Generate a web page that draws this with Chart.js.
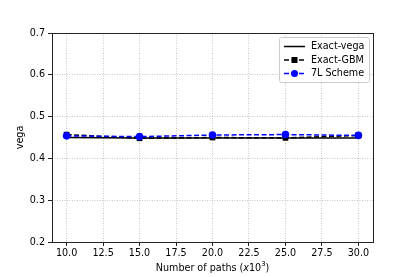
<!DOCTYPE html>
<html>
<head>
<meta charset="utf-8">
<script src="https://cdn.jsdelivr.net/npm/chart.js@4"></script>
<style>
  html, body { margin: 0; padding: 0; background: #fff; }
  #wrap { width: 415px; height: 277px; }
</style>
</head>
<body>
<div id="wrap"><canvas id="vegachart" width="415" height="277"></canvas></div>
<script>
var paths = [10, 15, 20, 25, 30]
var exactVega = [0.450, 0.449, 0.449, 0.449, 0.449]
var exactGBM = [0.457, 0.448, 0.450, 0.449, 0.455]
var scheme7L = [0.454, 0.452, 0.456, 0.457, 0.455]
var xTicks = [10, 12.5, 15, 17.5, 20, 22.5, 25, 27.5, 30]
var yTicks = [0.2, 0.3, 0.4, 0.5, 0.6, 0.7]

var FONT = "'DejaVu Sans', sans-serif"
var FS = 9.6

function toPoints(xs, ys) {
	return xs.map(function (x, i) { return { x: x, y: ys[i] } })
}

// box around the plot, like matplotlib spines
var frameBox = {
	id: 'frameBox',
	afterDatasetsDraw: function (chart) {
		var a = chart.chartArea, ctx = chart.ctx
		ctx.save()
		ctx.strokeStyle = '#222'
		ctx.lineWidth = 1
		ctx.strokeRect(Math.round(a.left) + 0.5, Math.round(a.top) + 0.5,
			Math.round(a.right - a.left), Math.round(a.bottom - a.top))
		ctx.restore()
	}
}

// x axis title with italic x and superscript 3
var xTitle = {
	id: 'xTitle',
	afterDraw: function (chart) {
		var a = chart.chartArea, ctx = chart.ctx
		var parts = [
			{ t: 'Number of paths (', f: FS + 'px ' + FONT, dy: 0 },
			{ t: 'x', f: 'italic ' + FS + 'px ' + FONT, dy: 0 },
			{ t: '10', f: FS + 'px ' + FONT, dy: 0 },
			{ t: '3', f: '6.8px ' + FONT, dy: -4 },
			{ t: ')', f: FS + 'px ' + FONT, dy: 0 }
		]
		ctx.save()
		var total = 0
		parts.forEach(function (p) { ctx.font = p.f; p.w = ctx.measureText(p.t).width; total += p.w })
		var x = (a.left + a.right) / 2 - total / 2
		var y = 268
		ctx.fillStyle = '#000'
		ctx.textBaseline = 'middle'
		ctx.textAlign = 'left'
		parts.forEach(function (p) { ctx.font = p.f; ctx.fillText(p.t, x, y + p.dy); x += p.w })
		ctx.restore()
	}
}

// matplotlib style legend in the upper right corner
var boxLegend = {
	id: 'boxLegend',
	afterDraw: function (chart) {
		var ctx = chart.ctx
		var a = chart.chartArea
		var bx = 279.5, by = 37.5, bw = a.right - 4 - 279, bh = 45
		ctx.save()
		ctx.fillStyle = 'rgba(255,255,255,0.85)'
		ctx.strokeStyle = '#cccccc'
		ctx.lineWidth = 1
		ctx.beginPath()
		ctx.roundRect(bx, by, bw, bh, 2)
		ctx.fill()
		ctx.stroke()
		chart.data.datasets.forEach(function (ds, i) {
			var y = 46.5 + i * 13.5
			var x0 = 284, x1 = 305
			ctx.strokeStyle = ds.borderColor
			ctx.lineWidth = ds.borderWidth
			ctx.setLineDash(ds.borderDash || [])
			ctx.beginPath()
			ctx.moveTo(x0, y)
			ctx.lineTo(x1, y)
			ctx.stroke()
			ctx.setLineDash([])
			if (ds.pointRadius > 0) {
				ctx.fillStyle = ds.pointBackgroundColor
				var cx = (x0 + x1) / 2
				ctx.beginPath()
				if (ds.pointStyle === 'rect') {
					ctx.rect(cx - 3, y - 3, 6, 6)
				} else {
					ctx.arc(cx, y, 3.5, 0, Math.PI * 2)
				}
				ctx.fill()
			}
			ctx.fillStyle = '#000'
			ctx.font = FS + 'px ' + FONT
			ctx.textBaseline = 'middle'
			ctx.fillText(ds.label, 311, y)
		})
		ctx.restore()
	}
}

new Chart("vegachart", {
	type: "line",
	data: {
		datasets: [{
			label: "Exact-vega",
			data: toPoints(paths, exactVega),
			borderColor: '#000',
			backgroundColor: '#000',
			borderWidth: 1.5,
			pointRadius: 0,
			order: 2
		}, {
			label: "Exact-GBM",
			data: toPoints(paths, exactGBM),
			borderColor: '#000',
			backgroundColor: '#000',
			pointBackgroundColor: '#000',
			borderWidth: 1.5,
			borderDash: [5, 2.5],
			pointStyle: 'rect',
			pointRadius: 4,
			pointBorderWidth: 0,
			order: 1
		}, {
			label: "7L Scheme",
			data: toPoints(paths, scheme7L),
			borderColor: '#0000ff',
			backgroundColor: '#0000ff',
			pointBackgroundColor: '#0000ff',
			borderWidth: 1.5,
			borderDash: [5, 2.5],
			pointStyle: 'circle',
			pointRadius: 3.8,
			pointBorderWidth: 0,
			order: 0
		}]
	},
	options: {
		responsive: false,
		animation: false,
		layout: { padding: { left: 12, top: 33, right: 42, bottom: 0 } },
		plugins: {
			legend: { display: false },
			tooltip: { enabled: false }
		},
		scales: {
			x: {
				type: 'linear',
				min: 9,
				max: 31,
				afterBuildTicks: function (scale) {
					scale.ticks = xTicks.map(function (v) { return { value: v } })
				},
				afterFit: function (scale) { scale.height = 35 },
				grid: {
					color: '#b8b8b8',
					lineWidth: 0.8,
					tickColor: '#222',
					tickLength: 4,
					tickWidth: 1
				},
				border: { display: false, dash: [1, 1.5] },
				ticks: {
					color: '#000',
					padding: 2,
					maxRotation: 0,
					font: { family: FONT, size: FS },
					callback: function (v) { return v.toFixed(1) }
				}
			},
			y: {
				min: 0.2,
				max: 0.7,
				afterBuildTicks: function (scale) {
					scale.ticks = yTicks.map(function (v) { return { value: v } })
				},
				afterFit: function (scale) { scale.width = 40 },
				grid: {
					color: '#b8b8b8',
					lineWidth: 0.8,
					tickColor: '#222',
					tickLength: 4,
					tickWidth: 1
				},
				border: { display: false, dash: [1, 1.5] },
				title: {
					display: true,
					text: 'vega',
					color: '#000',
					padding: { top: 3, bottom: 0 },
					font: { family: FONT, size: FS }
				},
				ticks: {
					color: '#000',
					padding: 3,
					font: { family: FONT, size: FS },
					callback: function (v) { return v.toFixed(1) }
				}
			}
		}
	},
	plugins: [frameBox, xTitle, boxLegend]
})
</script>
</body>
</html>
